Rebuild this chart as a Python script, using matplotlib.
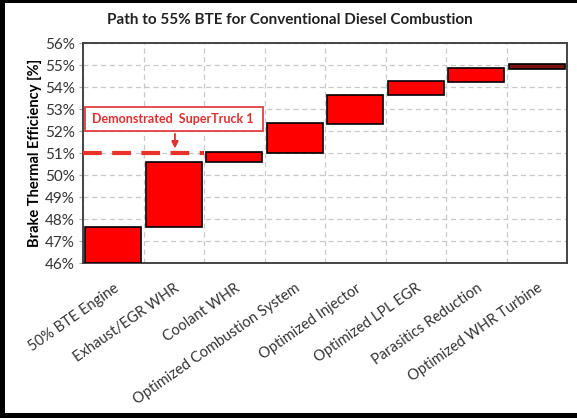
import matplotlib.pyplot as plt
from matplotlib.patches import Rectangle
import numpy as np

# data
categories = ["50% BTE Engine", "Exhaust/EGR WHR", "Coolant WHR",
              "Optimized Combustion System", "Optimized Injector",
              "Optimized LPL EGR", "Parasitics Reduction", "Optimized WHR Turbine"]
bottoms = [46.0, 47.62, 50.58, 51.0, 52.33, 53.62, 54.22, 54.82]
tops = [47.62, 50.6, 51.03, 52.35, 53.65, 54.27, 54.86, 55.04]
bar_colors = ["#ff0000"] * 7 + ["#7a1212"]
supertruck_bte = 51.0
supertruck_label = "Demonstrated  SuperTruck 1"
yticks = np.arange(46, 57, 1)

plt.rcParams['font.family'] = ['Lato', 'DejaVu Sans']

fig = plt.figure(figsize=(5.77, 4.18), dpi=100)
fig.patch.set_facecolor("black")
# white card inside the dark frame
card = Rectangle((5 / 577, 5 / 418), 1.1, 1 - 8 / 418,
                 transform=fig.transFigure, facecolor="white",
                 edgecolor="none", zorder=-10)
fig.patches.append(card)

ax = fig.add_axes([83 / 577, 1 - 263 / 418, (567 - 83) / 577, (263 - 43) / 418])
ax.set_zorder(2)
x = np.arange(len(categories))
heights = np.array(tops) - np.array(bottoms)
ax.bar(x, heights, bottom=bottoms, width=0.92, color=bar_colors,
       edgecolor="black", linewidth=1.2, zorder=3)

ax.set_xlim(-0.5, len(categories) - 0.5)
ax.set_ylim(46, 56)
ax.set_yticks(yticks)
ax.set_yticklabels(["%d%%" % v for v in yticks], fontsize=11, color="#333333")
ax.set_xticks(np.arange(len(categories) + 1) - 0.5, minor=False)
ax.set_xticklabels([])
ax.set_xticks(x, minor=True)
ax.set_xticklabels(categories, minor=True, rotation=35, ha="right",
                   rotation_mode="anchor", fontsize=10.5, color="#333333")
ax.tick_params(axis="x", which="both", length=0, pad=13)
ax.tick_params(axis="y", length=3, color="#aaaaaa", pad=3)

ax.grid(True, which="major", color="#c8c8c8", linestyle=(0, (4, 3)), linewidth=0.9, zorder=0)
for s in ax.spines.values():
    s.set_color("#444444")
    s.set_linewidth(1.4)

ax.set_ylabel("Brake Thermal Efficiency [%]", fontsize=10.5, fontweight="bold", labelpad=2)

# SuperTruck 1 marker
ax.plot([-0.5, 1.5], [supertruck_bte, supertruck_bte], color="#e8322a",
        linewidth=3, linestyle=(0, (4.5, 2.5)), zorder=4)
ax.add_patch(Rectangle((-0.47, 52.0), 2.95, 1.1, facecolor="white",
                       edgecolor="#e04040", linewidth=1.3, zorder=5))
ax.text(0.99, 52.55, supertruck_label, color="#e03030", fontsize=9,
        fontweight="bold", ha="center", va="center", zorder=6)
ax.annotate("", xy=(1.02, supertruck_bte + 0.08), xytext=(1.02, 52.0),
            arrowprops=dict(arrowstyle="-|>", color="#e03030", lw=1.3,
                            mutation_scale=10), zorder=6)

fig.text(290 / 577, 1 - 20 / 418, "Path to 55% BTE for Conventional Diesel Combustion",
         ha="center", va="center", fontsize=11, fontweight="bold", color="#222222")

fig.savefig("out.png", dpi=100, facecolor=fig.get_facecolor())
